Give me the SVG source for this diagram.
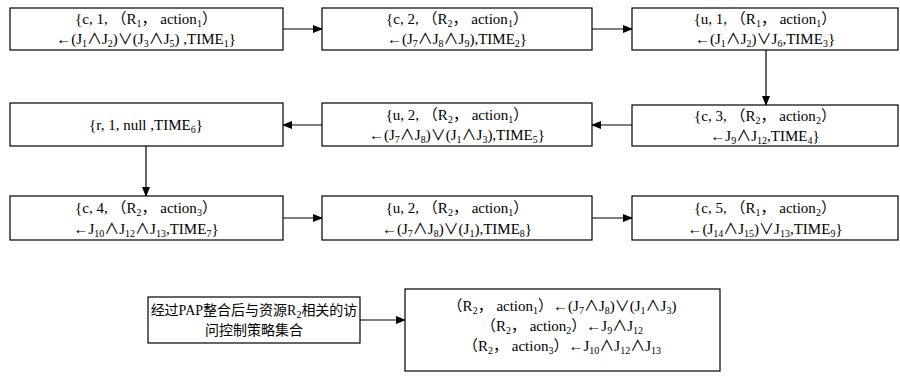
<svg xmlns="http://www.w3.org/2000/svg" width="900" height="376" viewBox="0 0 900 376">
<style>
.b{fill:#fff;stroke:#000;stroke-width:1.2}
.t{font-family:"Liberation Serif","Noto Sans CJK SC",serif;font-size:15px;fill:#000;text-anchor:middle}
.z{font-size:14px}
.s{font-size:10px;baseline-shift:-3px}
.e{stroke:#000;stroke-width:1.2;fill:none;marker-end:url(#a)}
</style>
<defs>
<marker id="a" markerWidth="10" markerHeight="8" refX="9" refY="4" orient="auto" markerUnits="userSpaceOnUse">
<path d="M0,0 L10,4 L0,8 z" fill="#000"/>
</marker>
</defs>
<g id="connectors">
<line class="e" x1="283" y1="29" x2="322" y2="29"/>
<line class="e" x1="592" y1="29" x2="632" y2="29"/>
<line class="e" x1="766" y1="50" x2="766" y2="105"/>
<line class="e" x1="632" y1="125" x2="592" y2="125"/>
<line class="e" x1="322" y1="125" x2="283" y2="125"/>
<line class="e" x1="146" y1="146" x2="146" y2="196"/>
<line class="e" x1="283" y1="218" x2="322" y2="218"/>
<line class="e" x1="592" y1="218" x2="632" y2="218"/>
<line class="e" x1="360" y1="320" x2="405" y2="320"/>
</g>
<g id="n1">
<rect class="b" x="10" y="8" width="273" height="42"/>
<text class="t" x="146" y="24">{c, 1, （R<tspan class="s">1</tspan>， action<tspan class="s">1</tspan>）</text>
<text class="t" x="146" y="44">←(J<tspan class="s">1</tspan>∧J<tspan class="s">2</tspan>)∨(J<tspan class="s">3</tspan>∧J<tspan class="s">5</tspan>) ,TIME<tspan class="s">1</tspan>}</text>
</g>
<g id="n2">
<rect class="b" x="322" y="8" width="270" height="42"/>
<text class="t" x="457" y="24">{c, 2, （R<tspan class="s">2</tspan>， action<tspan class="s">1</tspan>）</text>
<text class="t" x="457" y="44">←(J<tspan class="s">7</tspan>∧J<tspan class="s">8</tspan>∧J<tspan class="s">9</tspan>),TIME<tspan class="s">2</tspan>}</text>
</g>
<g id="n3">
<rect class="b" x="632" y="8" width="266" height="42"/>
<text class="t" x="765" y="24">{u, 1, （R<tspan class="s">1</tspan>， action<tspan class="s">1</tspan>）</text>
<text class="t" x="765" y="44">←(J<tspan class="s">1</tspan>∧J<tspan class="s">2</tspan>)∨J<tspan class="s">6</tspan>,TIME<tspan class="s">3</tspan>}</text>
</g>
<g id="n4">
<rect class="b" x="632" y="105" width="266" height="41"/>
<text class="t" x="765" y="121">{c, 3, （R<tspan class="s">2</tspan>， action<tspan class="s">2</tspan>）</text>
<text class="t" x="765" y="141">←J<tspan class="s">9</tspan>∧J<tspan class="s">12</tspan>,TIME<tspan class="s">4</tspan>}</text>
</g>
<g id="n5">
<rect class="b" x="322" y="103" width="270" height="43"/>
<text class="t" x="457" y="120">{u, 2, （R<tspan class="s">2</tspan>， action<tspan class="s">1</tspan>）</text>
<text class="t" x="457" y="140">←(J<tspan class="s">7</tspan>∧J<tspan class="s">8</tspan>)∨(J<tspan class="s">1</tspan>∧J<tspan class="s">3</tspan>),TIME<tspan class="s">5</tspan>}</text>
</g>
<g id="n6">
<rect class="b" x="10" y="103" width="273" height="43"/>
<text class="t" x="146" y="130">{r, 1, null ,TIME<tspan class="s">6</tspan>}</text>
</g>
<g id="n7">
<rect class="b" x="10" y="196" width="273" height="44"/>
<text class="t" x="146" y="213">{c, 4, （R<tspan class="s">2</tspan>， action<tspan class="s">3</tspan>）</text>
<text class="t" x="146" y="234">←J<tspan class="s">10</tspan>∧J<tspan class="s">12</tspan>∧J<tspan class="s">13</tspan>,TIME<tspan class="s">7</tspan>}</text>
</g>
<g id="n8">
<rect class="b" x="322" y="196" width="270" height="44"/>
<text class="t" x="457" y="213">{u, 2, （R<tspan class="s">2</tspan>， action<tspan class="s">1</tspan>）</text>
<text class="t" x="457" y="234">←(J<tspan class="s">7</tspan>∧J<tspan class="s">8</tspan>)∨(J<tspan class="s">1</tspan>),TIME<tspan class="s">8</tspan>}</text>
</g>
<g id="n9">
<rect class="b" x="632" y="196" width="266" height="44"/>
<text class="t" x="765" y="213">{c, 5, （R<tspan class="s">1</tspan>， action<tspan class="s">2</tspan>）</text>
<text class="t" x="765" y="234">←(J<tspan class="s">14</tspan>∧J<tspan class="s">15</tspan>)∨J<tspan class="s">13</tspan>,TIME<tspan class="s">9</tspan>}</text>
</g>
<g id="n10">
<rect class="b" x="148" y="297" width="212" height="46"/>
<text class="t z" x="254" y="315">经过PAP整合后与资源R<tspan class="s">2</tspan>相关的访</text>
<text class="t z" x="254" y="335">问控制策略集合</text>
</g>
<g id="n11">
<rect class="b" x="405" y="289" width="315" height="82"/>
<text class="t" x="562" y="311">（R<tspan class="s">2</tspan>， action<tspan class="s">1</tspan>）←(J<tspan class="s">7</tspan>∧J<tspan class="s">8</tspan>)∨(J<tspan class="s">1</tspan>∧J<tspan class="s">3</tspan>)</text>
<text class="t" x="562" y="331">（R<tspan class="s">2</tspan>， action<tspan class="s">2</tspan>）←J<tspan class="s">9</tspan>∧J<tspan class="s">12</tspan></text>
<text class="t" x="562" y="351">（R<tspan class="s">2</tspan>， action<tspan class="s">3</tspan>）←J<tspan class="s">10</tspan>∧J<tspan class="s">12</tspan>∧J<tspan class="s">13</tspan></text>
</g>
</svg>
